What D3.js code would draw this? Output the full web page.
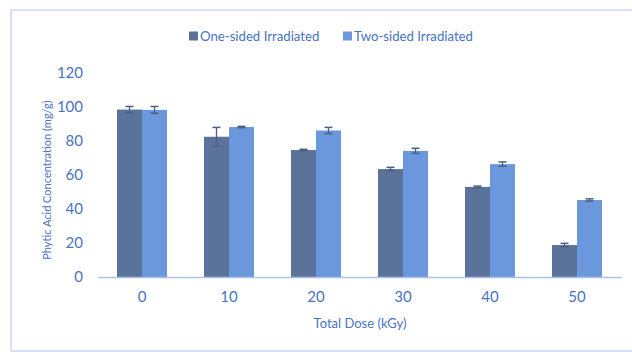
<!DOCTYPE html>
<html><head><meta charset="utf-8">
<script src="https://cdn.jsdelivr.net/npm/d3@7"></script>
<style>body{margin:0;background:#fff;} svg{display:block;}</style>
</head><body>
<svg id="c" width="632" height="352"></svg>
<script>
const categories = ["0","10","20","30","40","50"];
const seriesNames = ["One-sided Irradiated","Two-sided Irradiated"];
const oneSided = [98.5, 82.5, 74.7, 63.5, 53, 18.8];
const oneSidedErr = [1.8, 5.5, 0.4, 1.0, 0.5, 1.0];
const twoSided = [98.3, 88.2, 86.2, 74.2, 66.4, 45.3];
const twoSidedErr = [2.0, 0.4, 1.8, 1.5, 1.3, 0.7];
const yTicks = [0,20,40,60,80,100,120];
const colors = ["#5b739b","#6b98dc"];
const textColor = "#4a73c2";
const errColor = "#4d5f80";

const svg = d3.select("#c");
// frame
svg.append("rect").attr("x",11).attr("y",10).attr("width",700).attr("height",341)
  .attr("fill","none").attr("stroke","#c9d8f0").attr("stroke-width",1.5);

const x = d3.scaleBand().domain(categories).range([98.5,620.5]).paddingInner(0).paddingOuter(0);
const y = d3.scaleLinear().domain([0,120]).range([277,73]);
const barW = 25;

const data = categories.map((c,i)=>({c, vals:[
  {v:oneSided[i], e:oneSidedErr[i], k:0},
  {v:twoSided[i], e:twoSidedErr[i], k:1}]}));

const g = svg.append("g");
const groups = g.selectAll("g.grp").data(data).join("g")
  .attr("transform", d=>`translate(${x(d.c)+x.bandwidth()/2},0)`);
groups.selectAll("rect").data(d=>d.vals).join("rect")
  .attr("x", d=> d.k===0 ? -barW : 0)
  .attr("width", barW)
  .attr("y", d=>y(d.v))
  .attr("height", d=>y(0)-y(d.v))
  .attr("fill", d=>colors[d.k]);
// error bars
const eb = groups.selectAll("g.eb").data(d=>d.vals).join("g")
  .attr("transform", d=>`translate(${d.k===0 ? -barW/2 : barW/2},0)`);
eb.append("line").attr("x1",0).attr("x2",0)
  .attr("y1",d=>y(d.v+d.e)).attr("y2",d=>y(d.v-d.e))
  .attr("stroke",errColor).attr("stroke-width",1.3);
eb.append("line").attr("x1",-4).attr("x2",4)
  .attr("y1",d=>y(d.v+d.e)).attr("y2",d=>y(d.v+d.e))
  .attr("stroke",errColor).attr("stroke-width",1.5);
eb.append("line").attr("x1",-4).attr("x2",4)
  .attr("y1",d=>y(d.v-d.e)).attr("y2",d=>y(d.v-d.e))
  .attr("stroke",errColor).attr("stroke-width",1.5);

// x axis line
svg.append("line").attr("x1",98).attr("x2",622).attr("y1",y(0)+0.5).attr("y2",y(0)+0.5)
  .attr("stroke","#a9c2ea").attr("stroke-width",1.5);

// y tick labels
svg.append("g").selectAll("text").data(yTicks).join("text")
  .attr("x",83).attr("y",d=>y(d)).attr("dy","0.35em")
  .attr("text-anchor","end").attr("font-family","Lato, 'Open Sans', sans-serif")
  .attr("font-size",15).attr("fill",textColor).text(d=>d);

// x tick labels
svg.append("g").selectAll("text").data(categories).join("text")
  .attr("x",d=>x(d)+x.bandwidth()/2).attr("y",297).attr("dy","0.35em")
  .attr("text-anchor","middle").attr("font-family","Lato, 'Open Sans', sans-serif")
  .attr("font-size",15).attr("fill",textColor).text(d=>d);

// axis titles
svg.append("text").attr("x",360).attr("y",323).attr("dy","0.35em")
  .attr("text-anchor","middle").attr("font-family","Lato, 'Open Sans', sans-serif")
  .attr("font-size",13).attr("fill",textColor).text("Total Dose (kGy)");
svg.append("text").attr("transform","translate(47,180) rotate(-90)").attr("dy","0.35em")
  .attr("text-anchor","middle").attr("font-family","Lato, 'Open Sans', sans-serif")
  .attr("font-size",11).attr("fill",textColor).text("Phytic Acid Concentration (mg/g)");

// legend
const legX = [189, 343];
const leg = svg.append("g").selectAll("g").data(seriesNames).join("g")
  .attr("transform",(d,i)=>`translate(${legX[i]},36)`);
leg.append("rect").attr("x",0).attr("y",-4.5).attr("width",9).attr("height",9)
  .attr("fill",(d,i)=>colors[i]);
leg.append("text").attr("x",11).attr("y",0).attr("dy","0.35em")
  .attr("font-family","Lato, 'Open Sans', sans-serif").attr("font-size",13.2)
  .attr("fill",textColor).text(d=>d);
</script>
</body></html>
